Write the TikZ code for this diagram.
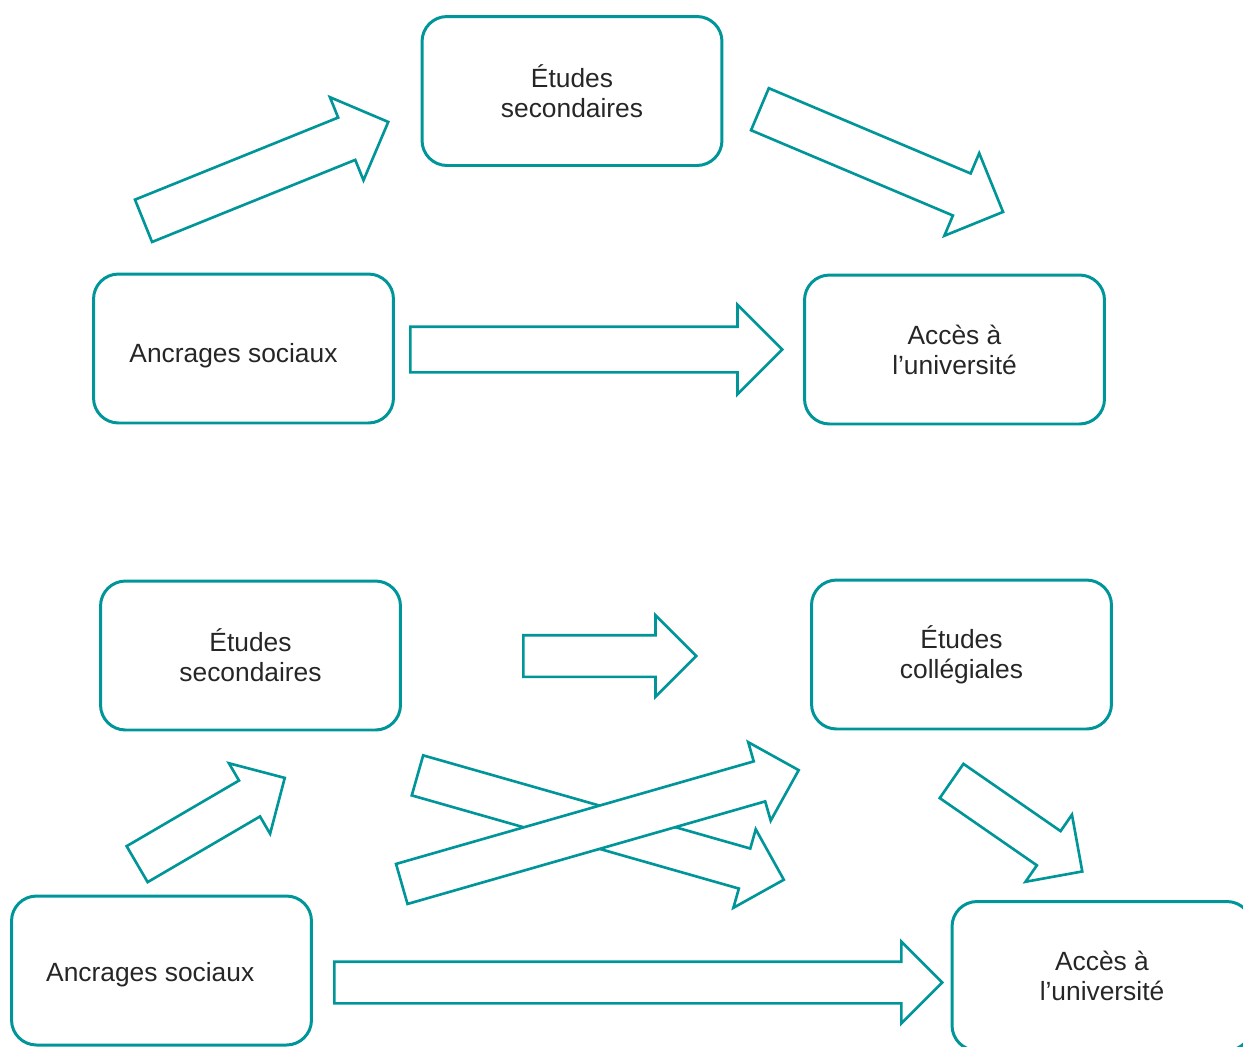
\documentclass[tikz,border=0pt]{standalone}
\usepackage{fontspec}
\setmainfont{Liberation Sans}
\usetikzlibrary{shapes.arrows}
\definecolor{boxteal}{RGB}{0,150,153}
\begin{document}
\begin{tikzpicture}[x=0.02cm, y=-0.02cm,
    box/.style={draw=boxteal, line width=1.7pt, rounded corners=0.5cm, minimum width=6cm, minimum height=2.98cm, align=center, text=black!85, font=\fontsize{15}{17}\selectfont},
    bigarrow/.style={single arrow, draw=boxteal, fill=white, line width=1.5pt, inner xsep=0pt, inner ysep=0.43cm, single arrow tip angle=90, single arrow head indent=0pt, single arrow head extend=0.44cm, anchor=tail},
    smallarrow/.style={bigarrow, inner ysep=0.39cm, single arrow head extend=0.4cm}]
    \useasboundingbox (0,0) rectangle (1243,1046);
    \clip (0,0) rectangle (1243,1046);
    \node[box] (etudesA) at (572,91) {Études\\secondaires};
    \node[box] (ancragesA) at (243.5,348.5) {\raisebox{-0.14cm}[\height][\depth]{Ancrages sociaux}\hspace*{0.4cm}};
    \node[box] (accesA) at (954.5,349.5) {Accès à\\l’université};
    \node[bigarrow, minimum height=7.44cm] (flecheA1) at (409,349.5) {};
    \node[bigarrow, minimum height=5.28cm, rotate=22] (flecheA2) at (142.3,221.3) {};
    \node[bigarrow, minimum height=5.28cm, rotate=-22.9] (flecheA3) at (758.7,108.7) {};
    \node[box] (etudesB) at (250.5,655.5) {Études\\secondaires};
    \node[box] (collegialesB) at (961.5,654.5) {Études\\collégiales};
    \node[box] (ancragesB) at (161.5,970.5) {\raisebox{-0.08cm}[\height][\depth]{Ancrages sociaux}\hspace*{0.45cm}};
    \node[box] (accesB) at (1102,976) {Accès à\\l’université};
    \node[smallarrow, minimum height=3.46cm] (flecheB1) at (522,656) {};
    \node[smallarrow, minimum height=12.16cm] (flecheB2) at (333,982.5) {};
    \node[smallarrow, minimum height=3.42cm, rotate=30.3] (flecheB3) at (136,864.8) {};
    \node[smallarrow, minimum height=3.18cm, rotate=-34.7] (flecheB4) at (950.5,780.2) {};
    \node[smallarrow, minimum height=7.62cm, rotate=-15.9] (flecheB5) at (416.2,775) {};
    \node[smallarrow, minimum height=8.26cm, rotate=16] (flecheB6) at (400.5,884.3) {};
\end{tikzpicture}
\end{document}
